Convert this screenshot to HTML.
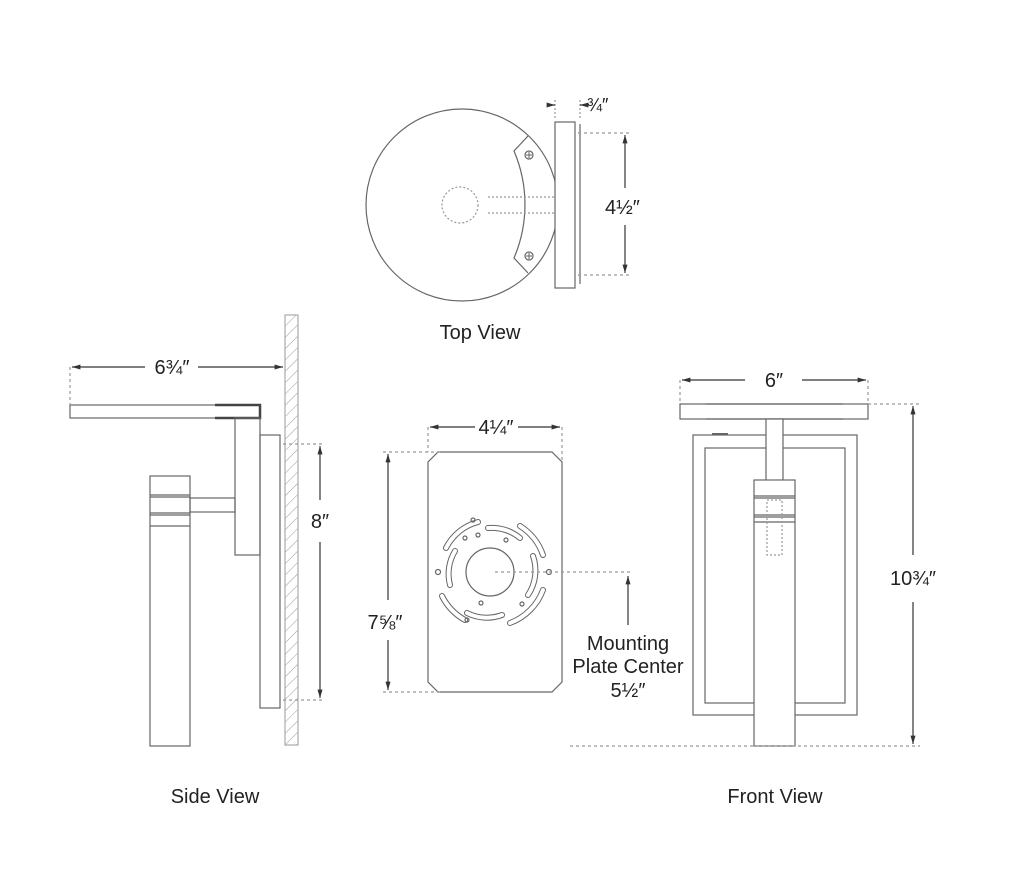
<!DOCTYPE html>
<html><head><meta charset="utf-8"><style>
html,body{margin:0;padding:0;background:#fff;}
svg{display:block;}
text{font-family:"Liberation Sans",sans-serif;fill:#222;}
</style></head><body>
<svg width="1024" height="896" viewBox="0 0 1024 896" xmlns="http://www.w3.org/2000/svg">
<defs>
<marker id="a" viewBox="0 0 10 10" refX="10" refY="5" markerWidth="7" markerHeight="7" orient="auto-start-reverse"><path d="M0,2 L10,5 L0,8 z" fill="#333"/></marker>
<pattern id="h" width="8" height="8" patternUnits="userSpaceOnUse" patternTransform="rotate(45)"><line x1="0" y1="0" x2="0" y2="8" stroke="#999" stroke-width="1"/></pattern>
</defs>
<g fill="none" stroke="#666" stroke-width="1.2">
<!-- TOP VIEW -->
<circle cx="462" cy="205" r="96"/>
<path d="M528,136 L514,151 A136,136 0 0 1 514,258 L528,273"/>
<circle cx="529" cy="155" r="4"/><circle cx="529" cy="256" r="4"/>
<path d="M526,155 H532 M529,152 V158 M526,256 H532 M529,253 V259" stroke-width="1"/>
<circle cx="567" cy="205" r="4"/>
<path d="M564,205 H570 M567,202 V208" stroke-width="1"/>
<circle cx="460" cy="205" r="18" stroke-dasharray="2,2" stroke="#999"/>
<path d="M488,197 L555,197 M488,213 L555,213" stroke-dasharray="2,2" stroke="#999"/>
<rect x="555" y="122" width="20" height="166" fill="#fff"/>
<line x1="580" y1="124" x2="580" y2="284"/>
<path d="M555,100 V120 M580,100 V120" stroke-dasharray="2,2" stroke="#999"/>
<line x1="548" y1="105" x2="555" y2="105" marker-end="url(#a)" stroke="#333"/>
<line x1="588" y1="105" x2="580" y2="105" marker-end="url(#a)" stroke="#333"/>
<path d="M578,133 H630 M578,275 H630" stroke-dasharray="3,3" stroke="#999"/>
<line x1="625" y1="135" x2="625" y2="188" marker-start="url(#a)" stroke="#333"/>
<line x1="625" y1="225" x2="625" y2="273" marker-end="url(#a)" stroke="#333"/>

<!-- SIDE VIEW -->
<rect x="285" y="315" width="13" height="430" fill="url(#h)" stroke="#aaa"/>
<rect x="70" y="405" width="190" height="13"/>
<path d="M215,405 H260 V418 H215" stroke="#444" stroke-width="2.5"/>
<rect x="235" y="418" width="25" height="137"/>
<rect x="260" y="435" width="20" height="273"/>
<rect x="190" y="498" width="45" height="14"/>
<rect x="150" y="476" width="40" height="270"/>
<path d="M150,495 H190 M150,497 H190 M150,513 H190 M150,515 H190 M150,526 H190"/>
<path d="M70,367 V405" stroke-dasharray="3,3" stroke="#999"/>
<line x1="145" y1="367" x2="72" y2="367" marker-end="url(#a)" stroke="#333"/>
<line x1="198" y1="367" x2="283" y2="367" marker-end="url(#a)" stroke="#333"/>
<path d="M283,444 H325 M283,700 H325" stroke-dasharray="3,3" stroke="#999"/>
<line x1="320" y1="500" x2="320" y2="446" marker-end="url(#a)" stroke="#333"/>
<line x1="320" y1="542" x2="320" y2="698" marker-end="url(#a)" stroke="#333"/>

<!-- MOUNTING PLATE -->
<path d="M438,452 H552 L562,462 V682 L552,692 H438 L428,682 V462 Z"/>
<path d="M428,427 V452 M562,427 V462" stroke-dasharray="3,3" stroke="#999"/>
<line x1="475" y1="427" x2="430" y2="427" marker-end="url(#a)" stroke="#333"/>
<line x1="518" y1="427" x2="560" y2="427" marker-end="url(#a)" stroke="#333"/>
<path d="M383,452 H440 M383,692 H440" stroke-dasharray="3,3" stroke="#999"/>
<line x1="388" y1="600" x2="388" y2="454" marker-end="url(#a)" stroke="#333"/>
<line x1="388" y1="640" x2="388" y2="690" marker-end="url(#a)" stroke="#333"/>
<circle cx="490" cy="572" r="24"/>
<g stroke-linecap="round">
<path d="M446,548 A50,50 0 0 1 478,522" stroke-width="6" stroke="#666"/>
<path d="M446,548 A50,50 0 0 1 478,522" stroke-width="4" stroke="#fff"/>
<path d="M488,528 A44,44 0 0 1 520,538" stroke-width="6" stroke="#666"/>
<path d="M488,528 A44,44 0 0 1 520,538" stroke-width="4" stroke="#fff"/>
<path d="M520,526 A56,56 0 0 1 543,555" stroke-width="6" stroke="#666"/>
<path d="M520,526 A56,56 0 0 1 543,555" stroke-width="4" stroke="#fff"/>
<path d="M533,556 A44,44 0 0 1 528,595" stroke-width="6" stroke="#666"/>
<path d="M533,556 A44,44 0 0 1 528,595" stroke-width="4" stroke="#fff"/>
<path d="M543,590 A56,56 0 0 1 510,623" stroke-width="6" stroke="#666"/>
<path d="M543,590 A56,56 0 0 1 510,623" stroke-width="4" stroke="#fff"/>
<path d="M467,613 A44,44 0 0 0 502,615" stroke-width="6" stroke="#666"/>
<path d="M467,613 A44,44 0 0 0 502,615" stroke-width="4" stroke="#fff"/>
<path d="M442,596 A56,56 0 0 0 465,620" stroke-width="6" stroke="#666"/>
<path d="M442,596 A56,56 0 0 0 465,620" stroke-width="4" stroke="#fff"/>
<path d="M455,551 A44,44 0 0 0 450,585" stroke-width="6" stroke="#666"/>
<path d="M455,551 A44,44 0 0 0 450,585" stroke-width="4" stroke="#fff"/>
</g>
<circle cx="438" cy="572" r="2.5"/><circle cx="549" cy="572" r="2.5"/>
<circle cx="465" cy="538" r="2"/><circle cx="478" cy="535" r="2"/><circle cx="506" cy="540" r="2"/>
<circle cx="481" cy="603" r="2"/><circle cx="522" cy="604" r="2"/>
<circle cx="473" cy="520" r="2"/><circle cx="467" cy="620" r="2"/>
<path d="M495,572 H632" stroke-dasharray="3,3" stroke="#999"/>
<line x1="628" y1="576" x2="628" y2="625" marker-start="url(#a)" stroke="#333"/>

<!-- FRONT VIEW -->
<rect x="680" y="404" width="188" height="15"/>
<path d="M706,404 H843 M706,419 H843"/>
<rect x="693" y="435" width="164" height="280"/>
<rect x="705" y="448" width="140" height="255"/>
<rect x="766" y="419" width="17" height="62" fill="#fff"/>
<rect x="754" y="480" width="41" height="266" fill="#fff"/>
<path d="M754,496 H795 M754,498 H795 M754,515 H795 M754,517 H795 M754,522 H795"/>
<rect x="767" y="500" width="15" height="55" stroke-dasharray="2,2" stroke="#999"/>
<path d="M712,434 H728" stroke-width="2"/>
<path d="M680,380 V404 M868,380 V404" stroke-dasharray="3,3" stroke="#999"/>
<line x1="745" y1="380" x2="682" y2="380" marker-end="url(#a)" stroke="#333"/>
<line x1="802" y1="380" x2="866" y2="380" marker-end="url(#a)" stroke="#333"/>
<path d="M868,404 H920 M570,746 H920" stroke-dasharray="3,3" stroke="#999"/>
<line x1="913" y1="555" x2="913" y2="406" marker-end="url(#a)" stroke="#333"/>
<line x1="913" y1="602" x2="913" y2="744" marker-end="url(#a)" stroke="#333"/>
</g>
<text x="587" y="111" font-size="18">¾″</text>
<text x="605" y="214" font-size="20">4½″</text>
<text x="480" y="339" font-size="20" text-anchor="middle">Top View</text>
<text x="172" y="374" font-size="20" text-anchor="middle">6¾″</text>
<text x="320" y="528" font-size="20" text-anchor="middle">8″</text>
<text x="496" y="434" font-size="20" text-anchor="middle">4¼″</text>
<text x="385" y="629" font-size="20" text-anchor="middle">7⅝″</text>
<text x="628" y="650" font-size="20" text-anchor="middle">Mounting</text>
<text x="628" y="673" font-size="20" text-anchor="middle">Plate Center</text>
<text x="628" y="697" font-size="20" text-anchor="middle">5½″</text>
<text x="774" y="387" font-size="20" text-anchor="middle">6″</text>
<text x="913" y="585" font-size="20" text-anchor="middle">10¾″</text>
<text x="215" y="803" font-size="20" text-anchor="middle">Side View</text>
<text x="775" y="803" font-size="20" text-anchor="middle">Front View</text>
</svg>
</body></html>
